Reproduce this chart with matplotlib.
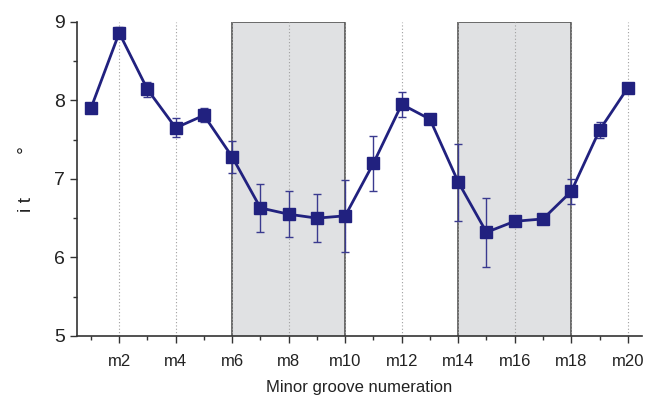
import numpy as np
import matplotlib.pyplot as plt
from matplotlib.ticker import MultipleLocator

plt.rcParams['font.family'] = ['Liberation Sans', 'DejaVu Sans']

# Data
positions = list(range(1, 21))
tilt = [7.90, 8.86, 8.14, 7.65, 7.81, 7.28, 6.63, 6.55, 6.50, 6.53,
        7.20, 7.95, 7.76, 6.96, 6.32, 6.46, 6.49, 6.84, 7.62, 8.16]
tilt_err = [0.02, 0.07, 0.10, 0.12, 0.09, 0.20, 0.31, 0.29, 0.31, 0.46,
            0.35, 0.16, 0.04, 0.49, 0.44, 0.05, 0.02, 0.16, 0.10, 0.02]
tick_pos = list(range(2, 21, 2))
tick_labels = [f"m{i}" for i in tick_pos]
shaded = [(6, 10), (14, 18)]

navy = "#21217f"

fig = plt.figure(figsize=(6.51, 3.98), dpi=100)
ax = fig.add_axes([0.118, 0.156, 0.868, 0.789])

# shaded regions
for x0, x1 in shaded:
    ax.fill_between([x0, x1], 5, 9, color="#e0e1e3", zorder=0, linewidth=0)
    ax.plot([x0, x0, x1, x1], [5, 9, 9, 5], color="#555555", lw=1.2, zorder=1)

# dotted vertical guides
for x in tick_pos:
    ax.axvline(x, color="#a0a0a0", lw=0.8, ls=(0, (1, 2)), zorder=1)

ax.errorbar(positions, tilt, yerr=tilt_err, color=navy, lw=2,
            marker="s", markersize=8.5, capsize=3, elinewidth=1,
            ecolor="#3a3a8f", capthick=1, zorder=3)

ax.set_xlim(0.5, 20.5)
ax.set_ylim(5, 9)
ax.set_xticks(tick_pos)
ax.set_xticklabels(tick_labels, fontsize=12)
ax.xaxis.set_minor_locator(MultipleLocator(1))
ax.yaxis.set_major_locator(MultipleLocator(1))
ax.yaxis.set_minor_locator(MultipleLocator(0.5))
ax.tick_params(axis="y", labelsize=14, direction="out", length=5, width=1, colors="#333333")
ax.tick_params(axis="x", direction="out", length=5, width=1, colors="#333333", pad=8)
ax.tick_params(which="minor", direction="out", length=3, width=1, colors="#333333")
for lab in ax.get_xticklabels() + ax.get_yticklabels():
    lab.set_color("#222222")

for side in ["top", "right"]:
    ax.spines[side].set_visible(False)
for side in ["left", "bottom"]:
    ax.spines[side].set_color("#333333")
    ax.spines[side].set_linewidth(1.2)

ax.set_xlabel("Minor groove numeration", fontsize=12, labelpad=8, color="#222222")
ax.set_ylabel("i t        °", fontsize=14, labelpad=14, color="#222222")

fig.savefig("out.png", dpi=100)
